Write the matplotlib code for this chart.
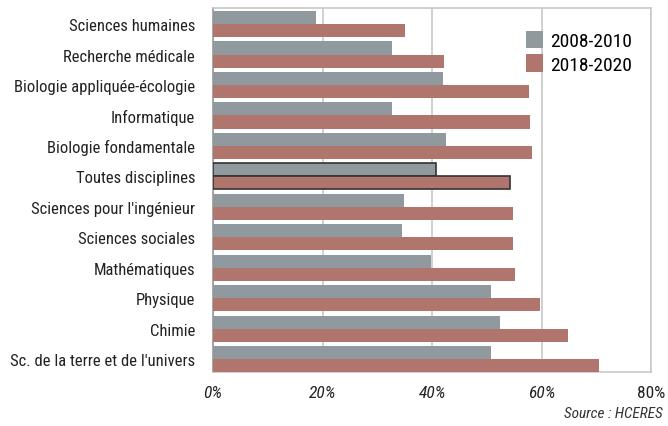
import numpy as np
import matplotlib.pyplot as plt
from matplotlib import font_manager

# categories top to bottom
categories = ["Sciences humaines", "Recherche médicale", "Biologie appliquée-écologie",
              "Informatique", "Biologie fondamentale", "Toutes disciplines",
              "Sciences pour l'ingénieur", "Sciences sociales", "Mathématiques",
              "Physique", "Chimie", "Sc. de la terre et de l'univers"]
vals_2008 = [18.8, 32.6, 41.9, 32.6, 42.6, 40.7, 34.8, 34.5, 39.8, 50.8, 52.3, 50.8]
vals_2018 = [35.1, 42.2, 57.7, 57.9, 58.3, 54.2, 54.8, 54.8, 55.2, 59.7, 64.8, 70.5]
series_labels = ["2008-2010", "2018-2020"]
xtick_vals = [0, 20, 40, 60, 80]
highlight = "Toutes disciplines"

names = {f.name for f in font_manager.fontManager.ttflist}
fam = [f for f in ["Roboto Condensed", "Liberation Sans", "DejaVu Sans"] if f in names]
plt.rcParams['font.family'] = fam

c_gray = '#8f999e'
c_red = '#b0756c'

fig = plt.figure(figsize=(6.68, 4.27), dpi=100)
ax = fig.add_axes([0.319, 0.126, 0.656, 0.853])

y = np.arange(len(categories))
h = 0.43
for i, cat in enumerate(categories):
    ec = '#333333' if cat == highlight else 'none'
    lw = 1.2 if cat == highlight else 0
    ax.barh(y[i] - h / 2, vals_2008[i], height=h, color=c_gray, edgecolor=ec, linewidth=lw,
            label=series_labels[0] if i == 0 else None, zorder=3)
    ax.barh(y[i] + h / 2, vals_2018[i], height=h, color=c_red, edgecolor=ec, linewidth=lw,
            label=series_labels[1] if i == 0 else None, zorder=3)

# bars touch the bottom frame, small gap at the top
ax.set_ylim(len(categories) - 1 + h, -h - 0.1)
ax.set_xlim(0, 80)
ax.set_yticks(y)
ax.set_yticklabels(categories, fontsize=12, color='#222222')
ax.set_xticks(xtick_vals)
labels = ax.set_xticklabels([f"{v}%" for v in xtick_vals], fontsize=12.5, color='#222222')
for lab in labels[:-1]:
    lab.set_style('italic')
ax.tick_params(axis='both', length=0)
ax.tick_params(axis='x', pad=9)
ax.tick_params(axis='y', pad=13)
ax.grid(axis='x', color='#c8c8c8', linewidth=1.2, zorder=0)
for s in ax.spines.values():
    s.set_color('#c8c8c8')
    s.set_linewidth(1.2)
ax.spines['left'].set_color('#999999')

ax.legend(loc='upper right', bbox_to_anchor=(0.995, 0.985), frameon=False, fontsize=14,
          handlelength=0.85, handleheight=1.0, handletextpad=0.35, labelspacing=0.2)

fig.text(0.992, 0.015, "Source : HCERES", ha='right', va='bottom', fontsize=11,
         style='italic', color='#333333')

fig.savefig("out.png", dpi=100)
